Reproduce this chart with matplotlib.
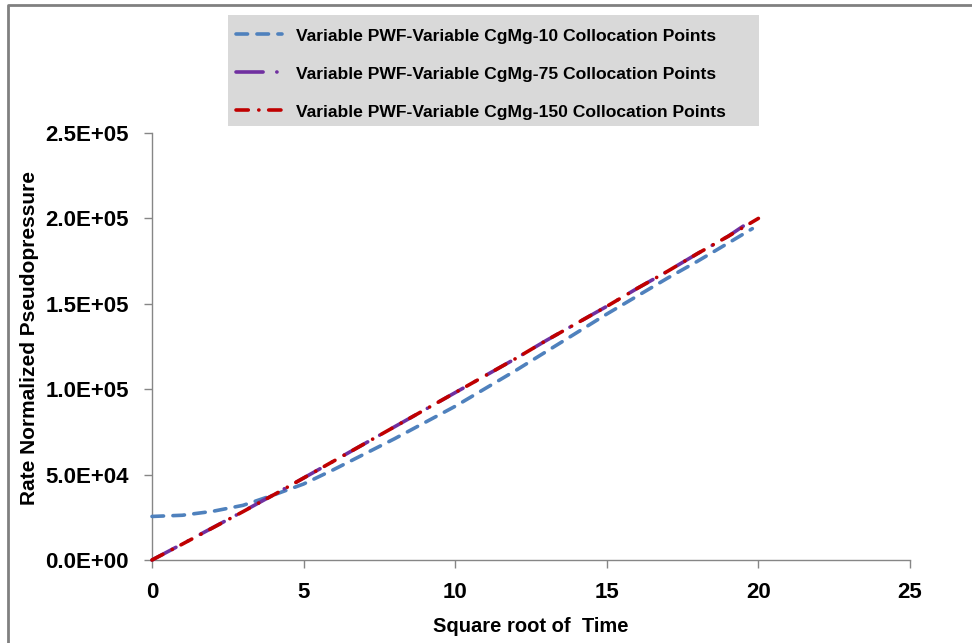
import matplotlib
matplotlib.use("Agg")
import matplotlib.pyplot as plt
from matplotlib.patches import Rectangle
from matplotlib.lines import Line2D
from matplotlib.ticker import FuncFormatter

plt.rcParams['font.family'] = ['Liberation Sans', 'DejaVu Sans']

# data (x = square root of time)
x_10 = [0, 1, 2, 3, 4, 5, 6, 7, 8, 9, 10, 11, 12, 13, 14, 15, 16, 17, 18, 19, 19.8]
y_10 = [2.55e4, 2.62e4, 2.85e4, 3.2e4, 3.8e4, 4.45e4, 5.3e4, 6.2e4, 7.1e4, 8.05e4, 9.0e4,
        10.05e4, 11.1e4, 12.2e4, 13.3e4, 14.4e4, 15.45e4, 16.5e4, 17.5e4, 18.55e4, 19.4e4]

x_75 = [0, 1, 2, 3, 4, 5, 6, 7, 8, 9, 10, 11, 12, 13, 14, 15, 16, 17, 18, 19, 19.5]
y_75 = [0, 0.94e4, 1.89e4, 2.84e4, 3.81e4, 4.8e4, 5.8e4, 6.8e4, 7.8e4, 8.8e4, 9.8e4,
        10.8e4, 11.8e4, 12.85e4, 13.85e4, 14.85e4, 15.9e4, 16.9e4, 17.95e4, 18.95e4, 19.55e4]

x_150 = [0, 1, 2, 3, 4, 5, 6, 7, 8, 9, 10, 11, 12, 13, 14, 15, 16, 17, 18, 19, 20]
y_150 = [0, 0.93e4, 1.88e4, 2.83e4, 3.8e4, 4.8e4, 5.8e4, 6.8e4, 7.8e4, 8.8e4, 9.8e4,
         10.8e4, 11.8e4, 12.85e4, 13.85e4, 14.85e4, 15.9e4, 16.9e4, 17.95e4, 18.95e4, 20.0e4]

labels = ["Variable PWF-Variable CgMg-10 Collocation Points",
          "Variable PWF-Variable CgMg-75 Collocation Points",
          "Variable PWF-Variable CgMg-150 Collocation Points"]

W, H = 972, 643
fig = plt.figure(figsize=(W / 100, H / 100), dpi=100)
ax = fig.add_axes([152 / W, 1 - 560 / H, (910 - 152) / W, (560 - 133) / H])

lw = 2.6
d_blue = (3.2, 2.6)
d_purple = (7.5, 3.8, 0.05, 3.8)
d_red = (3.4, 2.9, 0.05, 2.7)
blue, = ax.plot(x_10, y_10, color='#4F81BD', lw=lw, dashes=d_blue,
                dash_capstyle='round', clip_on=False, zorder=3)
purple, = ax.plot(x_75, y_75, color='#7030A0', lw=lw, dashes=d_purple,
                  dash_capstyle='round', clip_on=False, zorder=4)
red, = ax.plot(x_150, y_150, color='#C00000', lw=lw, dashes=d_red,
               dash_capstyle='round', clip_on=False, zorder=5)

ax.set_xlim(0, 25)
ax.set_ylim(0, 2.5e5)
ax.set_xticks([0, 5, 10, 15, 20, 25])
ax.set_yticks([0, 5e4, 1e5, 1.5e5, 2e5, 2.5e5])
ax.yaxis.set_major_formatter(FuncFormatter(lambda v, p: f"{v:.1E}"))

for s in ['top', 'right']:
    ax.spines[s].set_visible(False)
for s in ['left', 'bottom']:
    ax.spines[s].set_color('#868686')
    ax.spines[s].set_linewidth(1.0)
ax.tick_params(axis='both', direction='out', color='#868686', width=1.0, length=5.5,
               labelsize=16)
ax.tick_params(axis='y', pad=11)
ax.tick_params(axis='x', pad=10)
for t in ax.get_xticklabels() + ax.get_yticklabels():
    t.set_fontweight('bold')

fig.text(30 / W, 1 - 338 / H, "Rate Normalized Pseudopressure", rotation=90,
         ha='center', va='center', fontsize=15, fontweight='bold')
fig.text(531 / W, 1 - 626 / H, "Square root of  Time", ha='center', va='center',
         fontsize=14.5, fontweight='bold')

# grey legend box
fig.patches.append(Rectangle((228 / W, 1 - 126 / H), (759 - 228) / W, 111 / H,
                             transform=fig.transFigure, facecolor='#D9D9D9',
                             edgecolor='none', zorder=0))
handles = [Line2D([], [], color=blue.get_color(), lw=lw, dashes=d_blue, dash_capstyle='round'),
           Line2D([], [], color=purple.get_color(), lw=lw, dashes=d_purple, dash_capstyle='round'),
           Line2D([], [], color=red.get_color(), lw=lw, dashes=d_red, dash_capstyle='round')]
leg = fig.legend(handles, labels, loc='upper left', bbox_to_anchor=(231 / W, 1 - 23 / H),
                 frameon=False, fontsize=12.6, handlelength=2.6, handletextpad=0.8,
                 labelspacing=1.3, borderaxespad=0, borderpad=0.3)
for t in leg.get_texts():
    t.set_fontweight('bold')

# outer chart border (top and left visible)
fig.add_artist(Line2D([8 / W, 8 / W, 1.0], [0.0, 1 - 5 / H, 1 - 5 / H],
                      transform=fig.transFigure, color='#808080', lw=2.0))

fig.savefig("out.png", dpi=100)
